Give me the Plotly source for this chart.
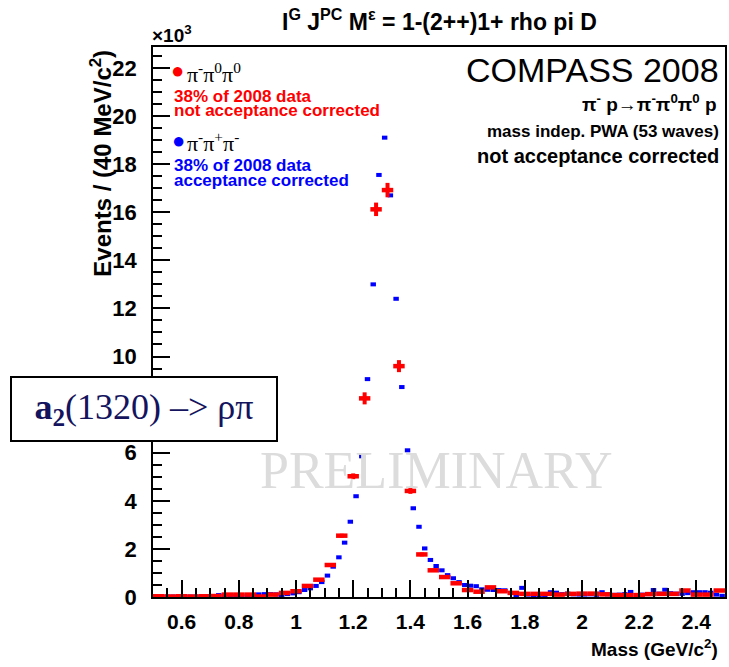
import numpy as np
import plotly.graph_objects as go

# ---------------- data (thousands of events) ----------------
# pi- pi0 pi0 : 40 MeV bins, centres 0.52 ... 2.48
red_mass = np.round(np.arange(0.52, 2.50, 0.04), 2)
red_vals = [0.03, 0.02, 0.03, 0.02, 0.03, 0.04, 0.10, 0.10, 0.10, 0.02,
            0.10, 0.17, 0.24, 0.46, 0.72, 1.33, 2.55, 5.02, 8.26, 16.12,
            16.92, 9.60, 4.41, 1.77, 1.11, 0.83, 0.57, 0.29, 0.22, 0.40,
            0.24, 0.17, 0.13, 0.13, 0.13, 0.10, 0.13, 0.14, 0.14, 0.11,
            0.08, 0.08, 0.08, 0.12, 0.13, 0.13, 0.27, 0.10, 0.10, 0.27]
red_errs = [0.02, 0.02, 0.02, 0.02, 0.02, 0.02, 0.02, 0.02, 0.02, 0.02,
            0.02, 0.03, 0.03, 0.03, 0.04, 0.05, 0.08, 0.12, 0.25, 0.28,
            0.30, 0.25, 0.12, 0.08, 0.06, 0.05, 0.04, 0.03, 0.03, 0.06,
            0.03, 0.03, 0.03, 0.03, 0.03, 0.03, 0.03, 0.03, 0.03, 0.03,
            0.03, 0.03, 0.03, 0.03, 0.03, 0.03, 0.04, 0.03, 0.03, 0.04]

# pi- pi+ pi- : 20 MeV bins, centres 0.51 ... 2.49
blue_mass = np.round(np.arange(0.51, 2.50, 0.02), 2)
blue_vals = [0.02, 0.02, 0.02, 0.02, 0.02, 0.02, 0.02, 0.02, 0.02, 0.03,
             0.03, 0.08, 0.05, 0.06, 0.05, 0.07, 0.06, 0.08, 0.11, 0.12,
             0.12, 0.11, 0.01, 0.12, 0.15, 0.20, 0.29, 0.36, 0.46, 0.62,
             0.89, 1.26, 1.65, 2.26, 3.13, 4.19, 5.85, 9.06, 13.0, 17.55,
             19.1, 16.7, 12.4, 8.73, 6.10, 3.69, 2.92, 2.02, 1.54, 1.29,
             1.11, 0.91, 0.78, 0.62, 0.50, 0.47, 0.45, 0.32, 0.30, 0.29,
             0.29, 0.28, 0.17, 0.05, 0.38, 0.10, 0.05, 0.06, 0.05, 0.20,
             0.18, 0.12, 0.14, 0.11, 0.10, 0.10, 0.11, 0.09, 0.20, 0.11,
             0.09, 0.10, 0.12, 0.21, 0.06, 0.10, 0.12, 0.29, 0.14, 0.30,
             0.16, 0.14, 0.13, 0.16, 0.20, 0.20, 0.20, 0.18, 0.10, 0.05]

x_ticks = [0.6, 0.8, 1.0, 1.2, 1.4, 1.6, 1.8, 2.0, 2.2, 2.4]
x_ticklabels = ["0.6", "0.8", "1", "1.2", "1.4", "1.6", "1.8", "2", "2.2", "2.4"]
y_ticks = [0, 2, 4, 6, 8, 10, 12, 14, 16, 18, 20, 22]

# ---------------- layout helpers ----------------
L, R, T, B = 153, 727, 47, 597
W, H = R - L, B - T


def X(px):
    return (px - L) / W


def Y(py):
    return (B - py) / H


FONT = "Liberation Sans"
RED = "#ff0000"
BLUE = "#0000ff"

fig = go.Figure()

fig.add_trace(go.Scatter(
    x=blue_mass, y=blue_vals, mode="markers",
    marker=dict(size=1, color=BLUE),
    error_x=dict(type="constant", value=0.0095, thickness=4, width=0, color=BLUE),
    error_y=dict(type="constant", value=0.02, thickness=3, width=0, color=BLUE),
    showlegend=False, hoverinfo="x+y",
))
fig.add_trace(go.Scatter(
    x=red_mass, y=red_vals, mode="markers",
    marker=dict(size=1, color=RED),
    error_x=dict(type="constant", value=0.02, thickness=4.5, width=0, color=RED),
    error_y=dict(type="data", array=red_errs, thickness=4, width=0, color=RED),
    showlegend=False, hoverinfo="x+y",
))

ann = []


def text(x, y, s, size, color="black", anchor="left", bold=True, family=FONT, **kw):
    ann.append(dict(
        x=X(x), y=Y(y), xref="paper", yref="paper", text=s, showarrow=False,
        xanchor=anchor, yanchor=kw.pop("yanchor", "middle"),
        font=dict(family=family, size=size, color=color,
                  weight="bold" if bold else "normal"),
        **kw))


# title and exponent
text(441, 20, "I<sup>G</sup> J<sup>PC</sup> M<sup>ε</sup> = 1-(2++)1+ rho pi D", 23, anchor="center")
text(150, 34, "×10<sup>3</sup>", 19)

# right block
text(723, 70, "COMPASS 2008", 34, bold=False, anchor="right")
text(721, 103, "π<sup>-</sup> p→π<sup>-</sup>π<sup>0</sup>π<sup>0</sup> p", 19, anchor="right")
text(723, 131, "mass indep. PWA (53 waves)", 17, anchor="right")
text(723, 156, "not acceptance corrected", 20, anchor="right")

# legend-like block
text(178, 71, "●", 22, color=RED, anchor="center", bold=False)
text(185, 73, "π<sup>-</sup>π<sup>0</sup>π<sup>0</sup>", 22, bold=False, family="Liberation Serif")
text(172, 96, "38% of 2008 data", 17, color=RED)
text(172, 111, "not acceptance corrected", 17, color=RED)
text(179, 140, "●", 22, color=BLUE, anchor="center", bold=False)
text(185, 142, "π<sup>-</sup>π<sup>+</sup>π<sup>-</sup>", 22, bold=False, family="Liberation Serif")
text(172, 165, "38% of 2008 data", 17, color=BLUE)
text(172, 180, "acceptance corrected", 17, color=BLUE)

# watermark
text(437, 470, "PRELIMINARY", 52, color="#dcdcdc", anchor="center", bold=False,
     family="Liberation Serif")

# axis titles
text(722, 648, "Mass (GeV/c<sup>2</sup>)", 19, anchor="right")
ann.append(dict(
    x=X(100), y=Y(48), xref="paper", yref="paper",
    text="Events / (40 MeV/c<sup>2</sup>)", showarrow=False, textangle=-90,
    xanchor="center", yanchor="top",
    font=dict(family=FONT, size=24, color="black", weight="bold")))

# boxed label
ann.append(dict(
    x=X(144), y=Y(409), xref="paper", yref="paper",
    text="<b>a<sub>2</sub></b>(1320) –> ρπ", showarrow=False,
    xanchor="center", yanchor="middle", width=264, height=62,
    bgcolor="white", bordercolor="black", borderwidth=2, borderpad=0,
    font=dict(family="Liberation Serif", size=36, color="#14145e")))

fig.update_layout(
    width=729, height=667,
    margin=dict(l=L, r=729 - R, t=T, b=667 - B),
    paper_bgcolor="white", plot_bgcolor="white",
    annotations=ann,
    showlegend=False,
)
fig.update_xaxes(
    range=[0.5, 2.5], tickvals=x_ticks, ticktext=x_ticklabels,
    ticks="inside", ticklen=17, tickwidth=1.5, tickcolor="black",
    minor=dict(dtick=0.05, tick0=0.5, ticks="inside", ticklen=9, tickwidth=1.5, tickcolor="black"),
    showline=True, linecolor="black", linewidth=1.5, mirror=True,
    showgrid=False, zeroline=False,
    tickfont=dict(family=FONT, size=21, color="black", weight="bold"),
    ticklabelstandoff=5,
)
fig.update_yaxes(
    range=[0, 22.87], tickvals=y_ticks,
    ticks="inside", ticklen=17, tickwidth=1.5, tickcolor="black",
    minor=dict(dtick=0.5, tick0=0, ticks="inside", ticklen=9, tickwidth=1.5, tickcolor="black"),
    showline=True, linecolor="black", linewidth=1.5, mirror=True,
    showgrid=False, zeroline=False,
    tickfont=dict(family=FONT, size=22, color="black", weight="bold"),
    ticklabelstandoff=10,
)

fig.write_html("out.html")
